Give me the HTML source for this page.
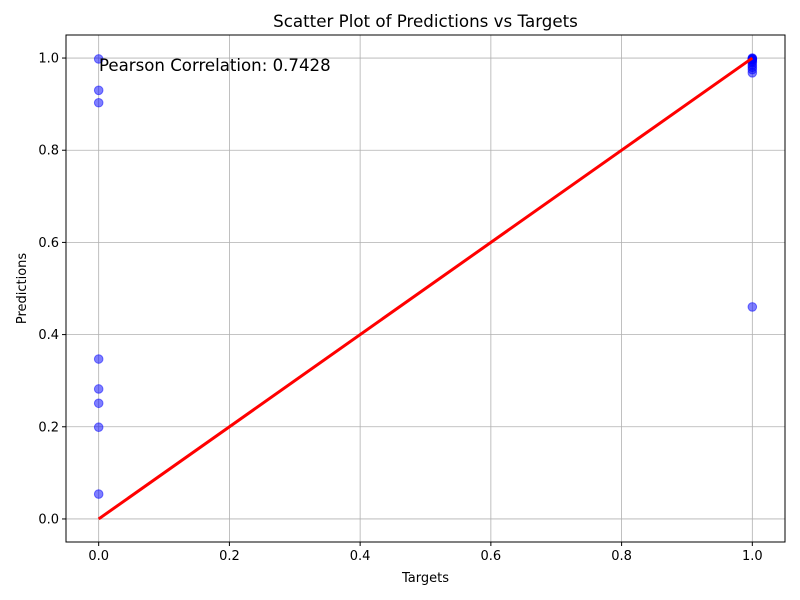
<!DOCTYPE html>
<html><head><meta charset="utf-8"><style>
body{margin:0;background:#fff}
svg{display:block;font-family:"DejaVu Sans","Liberation Sans",sans-serif}
</style></head><body>
<svg id="chart" width="800" height="600">
<rect width="800" height="600" fill="#fff"/>
<text x="425.5" y="27" font-size="16.7" text-anchor="middle">Scatter Plot of Predictions vs Targets</text>
<g id="grid"></g>
<g id="marks"></g>
<g id="axes"></g>
<text x="425.5" y="582" font-size="13" text-anchor="middle">Targets</text>
<text x="26" y="288.5" font-size="13" text-anchor="middle" transform="rotate(-90 26 288.5)">Predictions</text>
<text x="99" y="71" font-size="16.6">Pearson Correlation: 0.7428</text>
</svg>
<script>
const xTicks=[0,0.2,0.4,0.6,0.8,1.0];
const yTicks=[0,0.2,0.4,0.6,0.8,1.0];
const targets=[0,0,0,0,0,0,0,0,1,1,1,1,1,1,1,1,1,1,1,1];
const predictions=[0.998,0.93,0.903,0.347,0.282,0.251,0.199,0.054,0.46,0.968,0.975,0.98,0.985,0.99,0.993,0.996,0.998,1.0,0.999,0.997];
const fitLine=[[0,0],[1,1]];
const L=66,R=785,T=35,B=542;
const xs=v=>L+(v+0.05)/1.1*(R-L);
const ys=v=>B-(v+0.05)/1.1*(B-T);
const NS="http://www.w3.org/2000/svg";
function mk(tag,attrs,parent){const e=document.createElementNS(NS,tag);for(const k in attrs)e.setAttribute(k,attrs[k]);parent.appendChild(e);return e;}
const grid=document.getElementById('grid'),marks=document.getElementById('marks'),axes=document.getElementById('axes');
xTicks.forEach(t=>{
 const g=mk('line',{x1:xs(t),x2:xs(t),y1:T,y2:B,stroke:'#b0b0b0','stroke-width':0.8},grid);
 
 
 const k=mk('line',{x1:xs(t),x2:xs(t),y1:B,y2:B+4,stroke:'#000','stroke-width':1},axes);
 
 
 const l=mk('text',{x:xs(t),y:B+18,'font-size':13,'text-anchor':'middle'},axes);
 l.textContent=t.toFixed(1);
 
 
});
yTicks.forEach(t=>{
 const g=mk('line',{x1:L,x2:R,y1:ys(t),y2:ys(t),stroke:'#b0b0b0','stroke-width':0.8},grid);
 
 
 const k=mk('line',{x1:L-4,x2:L,y1:ys(t),y2:ys(t),stroke:'#000','stroke-width':1},axes);
 
 
 const l=mk('text',{x:L-7,y:ys(t)+4.5,'font-size':13,'text-anchor':'end'},axes);
 l.textContent=t.toFixed(1);
 
 
});
targets.forEach((t,i)=>{
 const c=mk('circle',{cx:xs(t),cy:ys(predictions[i]),r:4.3,fill:'#0000ff','fill-opacity':0.5,stroke:'#0000ff','stroke-opacity':0.5,'stroke-width':1},marks);
 
 
});
const fl=mk('line',{x1:xs(fitLine[0][0]),y1:ys(fitLine[0][1]),x2:xs(fitLine[1][0]),y2:ys(fitLine[1][1]),stroke:'#ff0000','stroke-width':3},marks);


const fr=mk('rect',{x:L,y:T,width:R-L,height:B-T,fill:'none',stroke:'#000','stroke-width':1},axes);


</script>
</body></html>
